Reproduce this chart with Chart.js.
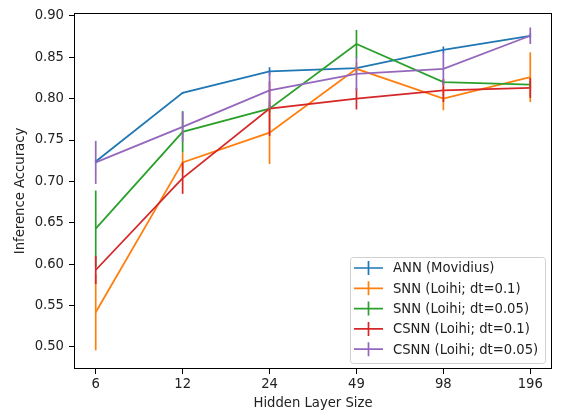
<!DOCTYPE html>
<html>
<head>
<meta charset="utf-8">
<script src="https://cdn.jsdelivr.net/npm/chart.js@4/dist/chart.umd.min.js"></script>
<style>
  html, body { margin: 0; padding: 0; background: #fff; }
  #wrap { width: 562px; height: 411px; }
</style>
</head>
<body>
<div id="wrap"><canvas id="chart" width="562" height="411"></canvas></div>
<script>
// hidden layer sizes (categorical x axis)
const layerSizes = ['6', '12', '24', '49', '98', '196'];
const yTicks = [0.50, 0.55, 0.60, 0.65, 0.70, 0.75, 0.80, 0.85, 0.90];

const seriesNames = [
  'ANN (Movidius)',
  'SNN (Loihi; dt=0.1)',
  'SNN (Loihi; dt=0.05)',
  'CSNN (Loihi; dt=0.1)',
  'CSNN (Loihi; dt=0.05)'
];
const seriesColors = ['#1f77b4', '#ff7f0e', '#2ca02c', '#d62728', '#9467bd'];

// mean accuracy per layer size
const annAcc    = [0.724, 0.807, 0.833, 0.837, 0.859, 0.876];
const snn01Acc  = [0.542, 0.723, 0.759, 0.836, 0.800, 0.826];
const snn005Acc = [0.643, 0.760, 0.788, 0.866, 0.820, 0.817];
const csnn01Acc = [0.593, 0.704, 0.788, 0.800, 0.810, 0.813];
const csnn005Acc= [0.723, 0.766, 0.810, 0.830, 0.836, 0.876];

// error (half-width of the bar)
const annErr    = [0.002, 0.001, 0.005, 0.002, 0.004, 0.003];
const snn01Err  = [0.046, 0.012, 0.038, 0.008, 0.014, 0.030];
const snn005Err = [0.046, 0.025, 0.004, 0.017, 0.003, 0.004];
const csnn01Err = [0.017, 0.019, 0.033, 0.013, 0.014, 0.012];
const csnn005Err= [0.026, 0.018, 0.022, 0.020, 0.020, 0.010];

const allAcc = [annAcc, snn01Acc, snn005Acc, csnn01Acc, csnn005Acc];
const allErr = [annErr, snn01Err, snn005Err, csnn01Err, csnn005Err];

const FONT = 'DejaVu Sans';
const FSIZE = 13.2;

// plot frame + error bars + legend, drawn through the chart scales
const extrasPlugin = {
  id: 'extras',
  afterDatasetsDraw(chart) {
    const ctx = chart.ctx;
    const xs = chart.scales.x, ys = chart.scales.y;
    ctx.save();
    ctx.lineWidth = 1.7;
    allAcc.forEach((acc, s) => {
      ctx.strokeStyle = seriesColors[s];
      acc.forEach((v, i) => {
        const px = xs.getPixelForValue(i);
        ctx.beginPath();
        ctx.moveTo(px, ys.getPixelForValue(v - allErr[s][i]));
        ctx.lineTo(px, ys.getPixelForValue(v + allErr[s][i]));
        ctx.stroke();
      });
    });
    ctx.restore();
  },
  afterDraw(chart) {
    const ctx = chart.ctx;
    const a = chart.chartArea;
    ctx.save();
    ctx.strokeStyle = '#000';
    ctx.lineWidth = 1;
    ctx.strokeRect(Math.round(a.left) + 0.5, Math.round(a.top) + 0.5,
      Math.round(a.right - a.left) - 1, Math.round(a.bottom - a.top) - 1);

    // legend, lower right inside the axes
    const lx = 350, ly = 257, lw = 195, lh = 106;
    ctx.fillStyle = 'rgba(255,255,255,0.8)';
    ctx.strokeStyle = '#d0d0d0';
    ctx.beginPath();
    ctx.roundRect(lx + 0.5, ly + 0.5, lw, lh, 3);
    ctx.fill();
    ctx.stroke();
    ctx.font = FSIZE + 'px "' + FONT + '"';
    ctx.textBaseline = 'middle';
    seriesNames.forEach((name, i) => {
      const y = ly + 11 + i * 20.3;
      ctx.strokeStyle = seriesColors[i];
      ctx.lineWidth = 1.7;
      ctx.beginPath();
      ctx.moveTo(354, y); ctx.lineTo(383, y);
      ctx.moveTo(368.5, y - 7); ctx.lineTo(368.5, y + 7);
      ctx.stroke();
      ctx.fillStyle = '#222';
      ctx.fillText(name, 393, y + 1);
    });
    ctx.restore();
  }
};

const datasets = allAcc.map((acc, s) => ({
  label: seriesNames[s],
  data: acc.map((v, i) => ({ x: i, y: v })),
  borderColor: seriesColors[s],
  backgroundColor: seriesColors[s],
  borderWidth: 1.8,
  pointRadius: 0,
  tension: 0,
  order: allAcc.length - s
}));

new Chart(document.getElementById('chart'), {
  type: 'line',
  data: { datasets: datasets },
  options: {
    responsive: false,
    animation: false,
    layout: { padding: { left: 0, right: 10, top: 12, bottom: 0 } },
    plugins: {
      legend: { display: false },
      tooltip: { enabled: false }
    },
    scales: {
      x: {
        type: 'linear',
        min: -0.25,
        max: 5.25,
        afterBuildTicks: scale => { scale.ticks = layerSizes.map((_, i) => ({ value: i })); },
        afterFit: scale => { scale.height = 42; },
        ticks: {
          autoSkip: false,
          maxRotation: 0,
          color: '#222',
          padding: 3,
          font: { family: FONT, size: FSIZE },
          callback: v => layerSizes[v]
        },
        grid: { drawOnChartArea: false, drawTicks: true, tickLength: 5, color: '#000' },
        border: { display: false },
        title: {
          display: true,
          text: 'Hidden Layer Size',
          color: '#222',
          padding: { top: 2, bottom: 0 },
          font: { family: FONT, size: FSIZE }
        }
      },
      y: {
        min: 0.4734,
        max: 0.9036,
        afterBuildTicks: scale => { scale.ticks = yTicks.map(v => ({ value: v })); },
        afterFit: scale => { scale.width = 74; },
        ticks: {
          color: '#222',
          padding: 5,
          font: { family: FONT, size: FSIZE },
          callback: v => v.toFixed(2)
        },
        grid: { drawOnChartArea: false, drawTicks: true, tickLength: 5, color: '#000' },
        border: { display: false },
        title: {
          display: true,
          text: 'Inference Accuracy',
          color: '#222',
          padding: { top: 13, bottom: 0 },
          font: { family: FONT, size: FSIZE }
        }
      }
    }
  },
  plugins: [extrasPlugin]
});
</script>
</body>
</html>
